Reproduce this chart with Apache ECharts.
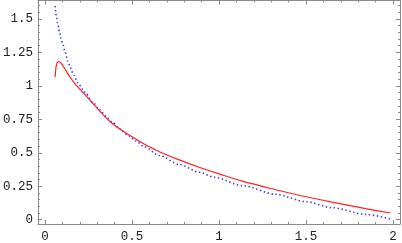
<!DOCTYPE html>
<html>
<head>
<meta charset="utf-8">
<script src="https://cdn.jsdelivr.net/npm/echarts@6/dist/echarts.min.js"></script>
<style>html,body{margin:0;padding:0;background:#fff;}#c{width:402px;height:243px;}</style>
</head>
<body>
<div id="c"></div>
<script>
var blueX = [0.058,0.066,0.073,0.083,0.093,0.102,0.116,0.131,0.146,0.165,0.188,0.217,0.236,0.274,0.313,0.351,0.389,0.427,0.475,0.523,0.57,0.657,0.771,0.886,0.972,1.134,1.326,1.5,1.65,1.842,1.985];
var blueY = [1.597,1.522,1.47,1.405,1.352,1.315,1.252,1.185,1.135,1.08,1.025,0.975,0.94,0.878,0.823,0.772,0.727,0.68,0.632,0.588,0.546,0.48,0.413,0.355,0.317,0.255,0.19,0.135,0.09,0.04,0.005];
var redX = [0.058,0.064,0.07,0.077,0.093,0.112,0.14,0.169,0.198,0.284,0.37,0.456,0.542,0.6,0.657,0.771,0.886,1.0,1.134,1.326,1.459,1.65,1.842,1.985];
var redY = [1.065,1.144,1.172,1.181,1.169,1.132,1.075,1.02,0.98,0.856,0.738,0.655,0.587,0.545,0.508,0.447,0.392,0.343,0.288,0.224,0.183,0.131,0.083,0.05];
var xMajor = [0,0.5,1,1.5,2];
var xMinor = [0,0.1,0.2,0.3,0.4,0.5,0.6,0.7,0.8,0.9,1,1.1,1.2,1.3,1.4,1.5,1.6,1.7,1.8,1.9,2];
var yMajor = [0,0.25,0.5,0.75,1,1.25,1.5];
var yMinor = [0,0.05,0.1,0.15,0.2,0.25,0.3,0.35,0.4,0.45,0.5,0.55,0.6,0.65,0.7,0.75,0.8,0.85,0.9,0.95,1,1.05,1.1,1.15,1.2,1.25,1.3,1.35,1.4,1.45,1.5,1.55,1.6];
var xLabels = ['0','0.5','1','1.5','2'];
var yLabels = ['0','0.25','0.5','0.75','1','1.25','1.5'];

function pairs(xs, ys){ return xs.map(function(x,i){ return [x, ys[i]]; }); }

var frameColor = '#8a8a8a';
var font = {fontFamily:'Liberation Mono', fontSize:12.5, color:'#222'};
var XMIN=-0.04, XMAX=2.04, YMIN=-0.032, YMAX=1.638;

function xAx(pos, vals, len, labels, showLine){
  return {type:'value', position:pos, min:XMIN, max:XMAX,
    axisLine:{show:showLine, onZero:false, lineStyle:{color:frameColor, width:1}},
    axisTick:{show:true, inside:true, length:len, customValues:vals, lineStyle:{color:frameColor}},
    axisLabel:labels ? Object.assign({show:true, margin:6, customValues:xMajor,
      formatter:function(v){ var i=xMajor.indexOf(v); return i>=0?xLabels[i]:''; }}, font) : {show:false},
    splitLine:{show:false}};
}
function yAx(pos, vals, len, labels, showLine){
  return {type:'value', position:pos, min:YMIN, max:YMAX,
    axisLine:{show:showLine, onZero:false, lineStyle:{color:frameColor, width:1}},
    axisTick:{show:true, inside:true, length:len, customValues:vals, lineStyle:{color:frameColor}},
    axisLabel:labels ? Object.assign({show:true, margin:5, customValues:yMajor,
      formatter:function(v){ var i=yMajor.indexOf(v); return i>=0?yLabels[i]:''; }}, font) : {show:false},
    splitLine:{show:false}};
}

var chart = echarts.init(document.getElementById('c'), null, {renderer:'canvas'});
chart.setOption({
  animation:false,
  backgroundColor:'#fff',
  grid:{left:37.5, right:2, top:0.5, bottom:18.5, containLabel:false},
  xAxis:[
    xAx('bottom', xMajor, 4, true, true),
    xAx('bottom', xMinor, 2, false, false),
    xAx('top', xMajor, 4, false, true),
    xAx('top', xMinor, 2, false, false)
  ],
  yAxis:[
    yAx('left', yMajor, 4, true, true),
    yAx('left', yMinor, 2, false, false),
    yAx('right', yMajor, 4, false, true),
    yAx('right', yMinor, 2, false, false)
  ],
  series:[
    {type:'line', xAxisIndex:0, yAxisIndex:0, data:pairs(blueX, blueY), smooth:0.3, smoothMonotone:'x', showSymbol:false,
      lineStyle:{color:'#3a3aff', width:1.6, type:[1.4,2.6]}},
    {type:'line', xAxisIndex:0, yAxisIndex:0, data:pairs(redX, redY), smooth:0.3, showSymbol:false,
      lineStyle:{color:'#ff2020', width:1.2}}
  ]
});
</script>
</body>
</html>
